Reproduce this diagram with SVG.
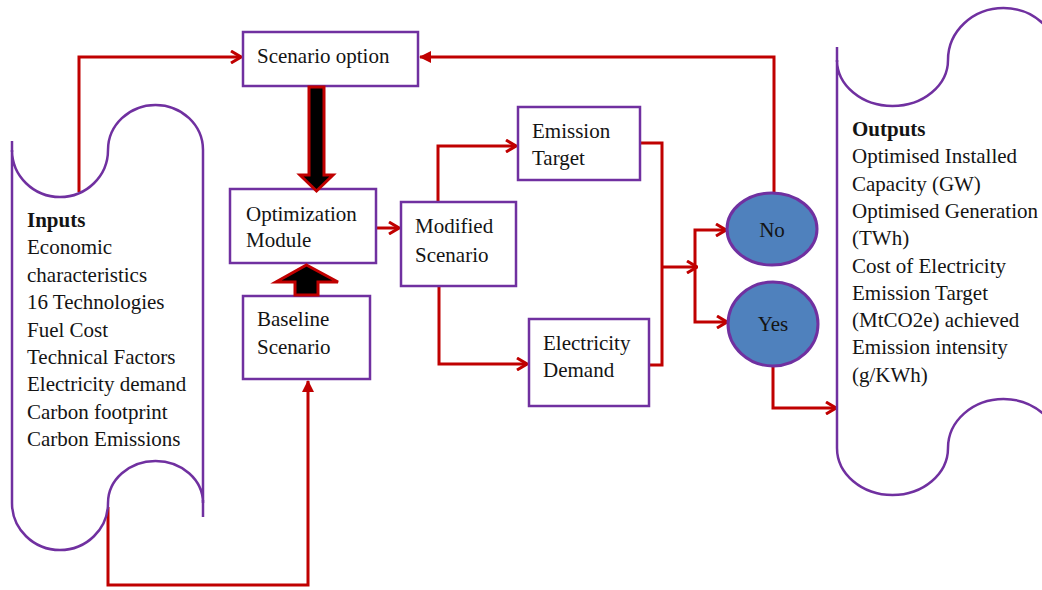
<svg xmlns="http://www.w3.org/2000/svg" width="1042" height="590" viewBox="0 0 1042 590">
<style>
.box{fill:#fff;stroke:#7030a0;stroke-width:2.5}
.scroll{fill:#fff;stroke:#7030a0;stroke-width:2.5}
.t{font-family:"Liberation Serif","Times New Roman",serif;font-size:21px;fill:#141414}
.b{font-weight:bold}
.c{fill:none;stroke:#c00000;stroke-width:3}
.thick{fill:#000;stroke:#c00000;stroke-width:3;stroke-linejoin:miter}
.oval{fill:#4f81bd;stroke:#7030a0;stroke-width:3}
</style>
<defs>
<marker id="v" viewBox="0 0 12 14" refX="11" refY="7" markerWidth="12" markerHeight="14" markerUnits="userSpaceOnUse" orient="auto">
<path d="M1,1 L11,7 L1,13" fill="none" stroke="#c00000" stroke-width="3"/>
</marker>
<marker id="f" viewBox="0 0 12 12" refX="11" refY="6" markerWidth="12" markerHeight="12" markerUnits="userSpaceOnUse" orient="auto">
<path d="M0,0 L12,6 L0,12 z" fill="#c00000"/>
</marker>
</defs>
<rect width="1042" height="590" fill="#fff"/>
<g id="connectors">
<path class="c" d="M79,192 V57 H241" marker-end="url(#v)"/>
<path class="c" d="M774,194 V57 H420" marker-end="url(#f)"/>
<path class="c" d="M376,228 H399" marker-end="url(#v)"/>
<path class="c" d="M438,202 V146 H516" marker-end="url(#v)"/>
<path class="c" d="M439,286 V364 H527" marker-end="url(#v)"/>
<path class="c" d="M640,143 H662 V365 H649"/>
<path class="c" d="M662,267 H697" marker-end="url(#v)"/>
<path class="c" d="M695,268 V230 H726" marker-end="url(#v)"/>
<path class="c" d="M695,266 V322 H727" marker-end="url(#v)"/>
<path class="c" d="M773,367 V408 H836" marker-end="url(#v)"/>
<path class="c" d="M108,507 V585 H308 V381" marker-end="url(#f)"/>
</g>
<g id="inputs">
<path class="scroll" d="M12,150 L12,503 A48,47 0 0 0 108,503 A47.5,42 0 0 1 203,503 L203,150 A47.5,45 0 0 0 108,150 A48,47 0 0 1 12,150 Z"/>
<line x1="12" y1="141" x2="12" y2="152" stroke="#7030a0" stroke-width="2.5"/>
<line x1="203" y1="500" x2="203" y2="517" stroke="#7030a0" stroke-width="2.5"/>
<text class="t" x="27" y="227"><tspan class="b">Inputs</tspan><tspan x="27" dy="27.4">Economic</tspan><tspan x="27" dy="27.4">characteristics</tspan><tspan x="27" dy="27.4">16 Technologies</tspan><tspan x="27" dy="27.4">Fuel Cost</tspan><tspan x="27" dy="27.4">Technical Factors</tspan><tspan x="27" dy="27.4">Electricity demand</tspan><tspan x="27" dy="27.4">Carbon footprint</tspan><tspan x="27" dy="27.4">Carbon Emissions</tspan></text>
</g>
<g id="outputs">
<path class="scroll" d="M837,60 L837,448 A55.5,47 0 0 0 948,448 A55.5,49 0 0 1 1059,448 L1059,60 A55.5,52 0 0 0 948,60 A55.5,46 0 0 1 837,60 Z"/>
<line x1="837" y1="47" x2="837" y2="62" stroke="#7030a0" stroke-width="2.5"/>
<text class="t" x="852" y="136"><tspan class="b">Outputs</tspan><tspan x="852" dy="27.3">Optimised Installed</tspan><tspan x="852" dy="27.3">Capacity (GW)</tspan><tspan x="852" dy="27.3">Optimised Generation</tspan><tspan x="852" dy="27.3">(TWh)</tspan><tspan x="852" dy="27.3">Cost of Electricity</tspan><tspan x="852" dy="27.3">Emission Target</tspan><tspan x="852" dy="27.3">(MtCO2e) achieved</tspan><tspan x="852" dy="27.3">Emission intensity</tspan><tspan x="852" dy="27.3">(g/KWh)</tspan></text>
</g>
<g id="scenario-option">
<rect class="box" x="243" y="32" width="175" height="54"/>
<text class="t" x="257" y="63">Scenario option</text>
</g>
<g id="optimization-module">
<rect class="box" x="230" y="189" width="146" height="74"/>
<text class="t" x="246" y="221">Optimization</text>
<text class="t" x="246" y="247">Module</text>
</g>
<g id="baseline-scenario">
<rect class="box" x="243" y="296" width="127" height="83"/>
<text class="t" x="257" y="326">Baseline</text>
<text class="t" x="257" y="354">Scenario</text>
</g>
<g id="modified-scenario">
<rect class="box" x="401" y="202" width="115" height="84"/>
<text class="t" x="415" y="233">Modified</text>
<text class="t" x="415" y="262">Scenario</text>
</g>
<g id="emission-target">
<rect class="box" x="518" y="107" width="122" height="73"/>
<text class="t" x="532" y="138">Emission</text>
<text class="t" x="532" y="165">Target</text>
</g>
<g id="electricity-demand">
<rect class="box" x="529" y="319" width="120" height="87"/>
<text class="t" x="543" y="350">Electricity</text>
<text class="t" x="543" y="377">Demand</text>
</g>
<g id="no">
<ellipse class="oval" cx="772" cy="229" rx="45" ry="36"/>
<text class="t" x="772" y="237" text-anchor="middle">No</text>
</g>
<g id="yes">
<ellipse class="oval" cx="773" cy="324" rx="45" ry="42"/>
<text class="t" x="773" y="331" text-anchor="middle">Yes</text>
</g>
<g id="thick-arrows">
<polygon class="thick" points="309,87 324,87 324,175 333,175 316.5,191 300,175 309,175"/>
<polygon class="thick" points="306.5,265 338,282 318,282 318,295 295,295 295,282 276,282"/>
</g>
</svg>
